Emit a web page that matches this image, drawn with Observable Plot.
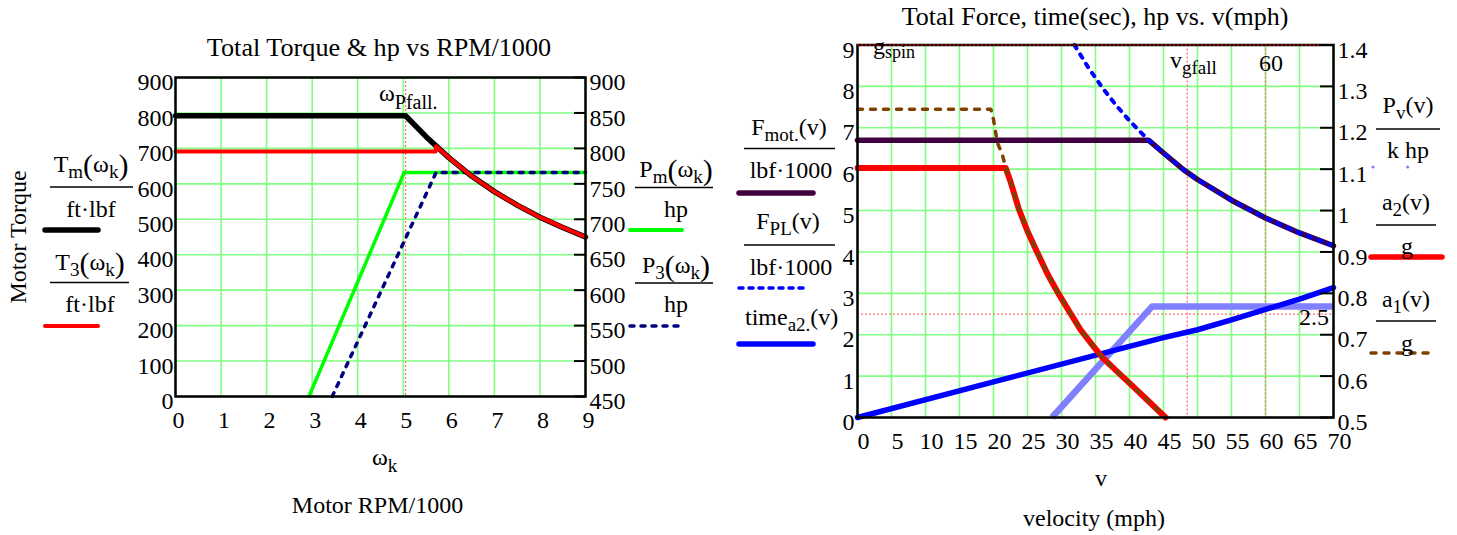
<!DOCTYPE html>
<html>
<head>
<meta charset="utf-8">
<script src="https://cdn.jsdelivr.net/npm/d3@7"></script>
<script src="https://cdn.jsdelivr.net/npm/@observablehq/plot@0.6"></script>
<style>
  html, body { margin: 0; padding: 0; background: #fff; }
  #wrap { position: relative; width: 1457px; height: 535px; overflow: hidden; }
</style>
</head>
<body>
<div id="wrap"></div>
<script>
// ---------------- DATA: left chart (Total Torque & hp vs RPM/1000) ----------------
const omegaTicks = [0, 1, 2, 3, 4, 5, 6, 7, 8, 9];
const torqueTicks = [0, 100, 200, 300, 400, 500, 600, 700, 800, 900];
const hpTickLabels = ["450", "500", "550", "600", "650", "700", "750", "800", "850", "900"];
const hpAxisMin = 450;      // right axis bottom (hp)
const hpPerTorque = 0.5;    // right axis: 450..900 hp over 0..900 torque

const omega_Tm = [0, 5.05, 5.5, 6, 6.5, 7, 7.5, 8, 8.5, 9];
const Tm       = [792, 792, 733, 674, 622, 578, 540, 506, 477, 450];
const omega_T3 = [0, 5.71, 5.72, 6, 6.5, 7, 7.5, 8, 8.5, 9];
const T3       = [691, 691, 706, 674, 622, 578, 540, 506, 477, 450];
const omega_Pm = [2.93, 5.02, 9];
const Pm       = [450, 766, 766];
const omega_P3 = [3.44, 5.72, 9];
const P3       = [450, 766, 766];
const omegaPfall = 5.05;

// ---------------- DATA: right chart (Total Force, time, hp vs v) ----------------
const vTicks = [0, 5, 10, 15, 20, 25, 30, 35, 40, 45, 50, 55, 60, 65, 70];
const forceTicks = [0, 1, 2, 3, 4, 5, 6, 7, 8, 9];
const gTickLabels = ["0.5", "0.6", "0.7", "0.8", "0.9", "1", "1.1", "1.2", "1.3", "1.4"];
const gAxisMin = 0.5;       // right axis bottom
const gPerForce = 0.1;      // right axis: 0.5..1.4 over 0..9

const v_Fmot = [0, 42.8, 45, 48, 50, 55, 60, 65, 70];
const Fmot   = [6.70, 6.70, 6.39, 5.98, 5.75, 5.25, 4.82, 4.46, 4.15];
const v_FPL  = [31.9, 34, 36, 38, 40, 42.8, 45, 48, 50, 55, 60, 65, 70];
const FPL    = [9.0, 8.44, 7.97, 7.55, 7.17, 6.70, 6.39, 5.98, 5.75, 5.25, 4.82, 4.46, 4.15];
const v_time = [0, 20, 40, 45, 50, 55, 60, 65, 70];
const time_a2 = [0, 0.86, 1.72, 1.93, 2.12, 2.36, 2.61, 2.86, 3.14];
const v_Pv   = [28.6, 43.3, 70];
const Pv     = [0.5, 0.768, 0.768];
const v_a2   = [0, 21.8, 22.5, 23.7, 25, 26.4, 28, 29.6, 31, 32.8, 34.5, 36, 38, 40, 42.5, 45.3];
const a2     = [1.103, 1.103, 1.07, 1.005, 0.95, 0.9, 0.845, 0.798, 0.76, 0.712, 0.676, 0.645, 0.614, 0.583, 0.544, 0.5];
const v_a1   = [0, 19.6, 20.0, 20.3, 20.6, 21.3, 21.8, 22.5, 23.7, 25, 26.4, 28, 29.6, 31, 32.8, 34.5, 36, 38, 40, 42.5, 45.3];
const a1     = [1.245, 1.245, 1.22, 1.19, 1.163, 1.135, 1.103, 1.07, 1.005, 0.95, 0.9, 0.845, 0.798, 0.76, 0.712, 0.676, 0.645, 0.614, 0.583, 0.544, 0.5];
const v_gfall = 48.5;
const v_60 = 60;
const level_25 = 2.5;
const g_spin = 9;

// ---------------- STYLE ----------------
const FONT = '"Liberation Serif", "Times New Roman", serif';
const GRID = "#80ff80";
const MARK = "#ff7070";
const W = 1457, H = 535;

const zip = (xs, ys, f = d => d) => xs.map((x, i) => ({x, y: f(ys[i])}));
const hpToTorque = hp => (hp - hpAxisMin) / hpPerTorque;
const gToForce = g => (g - gAxisMin) / gPerForce;

const wrap = document.getElementById("wrap");

// ---------------- LEFT CHART ----------------
const W1 = 730;
const F1 = {left: 175, right: 585, top: 77, bottom: 396};
const chart1 = Plot.plot({
  width: W1, height: H,
  marginLeft: F1.left, marginRight: W1 - F1.right, marginTop: F1.top, marginBottom: H - F1.bottom,
  x: {domain: [0, 9]},
  y: {domain: [0, 900]},
  style: {position: "absolute", left: "0px", top: "0px", fontFamily: FONT, fontSize: "24px", background: "transparent", color: "black", overflow: "visible"},
  marks: [
    Plot.ruleX(omegaTicks, {stroke: GRID, strokeWidth: 1.6}),
    Plot.ruleY(torqueTicks, {stroke: GRID, strokeWidth: 1.6}),
    Plot.ruleX([omegaPfall], {stroke: MARK, strokeWidth: 1.3, strokeDasharray: "2,2"}),
    Plot.line(zip(omega_Pm, Pm, hpToTorque), {x: "x", y: "y", stroke: "#00ff00", strokeWidth: 3.5}),
    Plot.line(zip(omega_P3, P3, hpToTorque), {x: "x", y: "y", stroke: "#000080", strokeWidth: 3.5, strokeDasharray: "4,7"}),
    Plot.line(zip(omega_Tm, Tm), {x: "x", y: "y", stroke: "black", strokeWidth: 5.5}),
    Plot.line(zip(omega_T3, T3), {x: "x", y: "y", stroke: "#ff0000", strokeWidth: 4}),
    Plot.frame({stroke: "black", strokeWidth: 2.5}),
    Plot.ruleY(torqueTicks, {insetLeft: (F1.right - F1.left) - 11, stroke: "black", strokeWidth: 2}),
    Plot.axisX({ticks: omegaTicks, tickSize: 0, tickPadding: 14, dx: 3, label: null}),
    Plot.axisY({ticks: torqueTicks, tickSize: 0, tickPadding: 2, dy: 5, label: null}),
    Plot.axisY({anchor: "right", ticks: torqueTicks, tickFormat: d => hpTickLabels[torqueTicks.indexOf(d)], tickSize: 0, tickPadding: 4, dy: 5, label: null})
  ]
});
wrap.appendChild(chart1);

// ---------------- RIGHT CHART ----------------
const X2 = 730, W2 = 727;
const F2 = {left: 857 - X2, right: 1333 - X2, top: 44.5, bottom: 417};
const chart2 = Plot.plot({
  width: W2, height: H,
  marginLeft: F2.left, marginRight: W2 - F2.right, marginTop: F2.top, marginBottom: H - F2.bottom,
  x: {domain: [0, 70]},
  y: {domain: [0, 9]},
  style: {position: "absolute", left: X2 + "px", top: "0px", fontFamily: FONT, fontSize: "24px", background: "transparent", color: "black", overflow: "visible"},
  marks: [
    Plot.ruleX(vTicks, {stroke: GRID, strokeWidth: 1.6}),
    Plot.ruleY(forceTicks, {stroke: GRID, strokeWidth: 1.6}),
    Plot.ruleX([v_gfall, v_60], {stroke: MARK, strokeWidth: 1.3, strokeDasharray: "2,2"}),
    Plot.ruleY([level_25], {stroke: MARK, strokeWidth: 1.3, strokeDasharray: "2,2"}),
    Plot.line(zip(v_Fmot, Fmot), {x: "x", y: "y", stroke: "#400040", strokeWidth: 5.5}),
    Plot.line(zip(v_FPL, FPL), {x: "x", y: "y", stroke: "#0000ff", strokeWidth: 4, strokeDasharray: "4,7"}),
    Plot.line(zip(v_Pv, Pv, gToForce), {x: "x", y: "y", stroke: "#8080ff", strokeWidth: 6.5, strokeLinecap: "butt"}),
    Plot.line(zip(v_time, time_a2), {x: "x", y: "y", stroke: "#0000ff", strokeWidth: 5.5}),
    Plot.line(zip(v_a2, a2, gToForce), {x: "x", y: "y", stroke: "#ff0000", strokeWidth: 6}),
    Plot.line(zip(v_a1, a1, gToForce), {x: "x", y: "y", stroke: "#804000", strokeWidth: 3.5, strokeDasharray: "5,8"}),
    Plot.frame({stroke: "black", strokeWidth: 2.5}),
    Plot.ruleY([g_spin], {stroke: "#c00000", strokeWidth: 1.5, strokeDasharray: "2,2"}),
    Plot.ruleY(forceTicks, {insetLeft: (F2.right - F2.left) - 13, stroke: "black", strokeWidth: 2}),
    Plot.axisX({ticks: vTicks, tickSize: 0, tickPadding: 14, dx: 6, label: null}),
    Plot.axisY({ticks: forceTicks, tickSize: 0, tickPadding: 3, dy: 5, label: null}),
    Plot.axisY({anchor: "right", ticks: forceTicks, tickFormat: d => gTickLabels[forceTicks.indexOf(d)], tickSize: 0, tickPadding: 4, dy: 5, label: null})
  ]
});
wrap.appendChild(chart2);

// ---------------- TEXT / LEGEND OVERLAY ----------------
const ov = d3.select(wrap).append("svg")
  .attr("width", W).attr("height", H)
  .style("position", "absolute").style("left", "0px").style("top", "0px")
  .attr("font-family", FONT).attr("fill", "black");

function txt(x, y, parts, o = {}) {
  const t = ov.append("text").attr("x", x).attr("y", y)
    .attr("text-anchor", o.anchor || "start").attr("font-size", o.size || 24);
  if (o.transform) t.attr("transform", o.transform).attr("x", 0).attr("y", 0);
  if (typeof parts === "string") parts = [[parts]];
  let shift = 0;
  for (const [s, kind] of parts) {
    const ts = t.append("tspan").text(s);
    let target = 0;
    if (kind === "sub") { target = o.sub ?? 6; ts.attr("font-size", o.subSize || 19); }
    if (kind === "big") { target = 3; ts.attr("font-size", 30); }
    ts.attr("dy", target - shift);
    shift = target;
  }
  return t;
}
function seg(x1, y1, x2, y2, stroke, width, dash, cap = "round") {
  const l = ov.append("line").attr("x1", x1).attr("y1", y1).attr("x2", x2).attr("y2", y2)
    .attr("stroke", stroke).attr("stroke-width", width).attr("stroke-linecap", cap);
  if (dash) l.attr("stroke-dasharray", dash);
}

// titles
txt(379, 56, "Total Torque & hp vs RPM/1000", {anchor: "middle", size: 26.2});
txt(1095, 25, "Total Force, time(sec), hp vs. v(mph)", {anchor: "middle", size: 26});

// axis titles
txt(372, 465, [["ω"], ["k", "sub"]], {sub: 7});
txt(377.5, 513, "Motor RPM/1000", {anchor: "middle"});
txt(1101, 486, "v", {anchor: "middle"});
txt(1094, 526, "velocity (mph)", {anchor: "middle"});
txt(0, 0, "Motor Torque", {anchor: "middle", transform: "translate(26,237) rotate(-90)"});

// left chart, left legend
txt(91, 172, [["T"], ["m", "sub"], ["(", "big"], ["ω"], ["k", "sub"], [")", "big"]], {anchor: "middle"});
seg(50, 187, 133, 187, "black", 1.6, null, "butt");
txt(91, 217, "ft·lbf", {anchor: "middle"});
seg(45, 230, 98, 230, "black", 5.5);
txt(90, 270, [["T"], ["3", "sub"], ["(", "big"], ["ω"], ["k", "sub"], [")", "big"]], {anchor: "middle"});
seg(50, 282.5, 129, 282.5, "black", 1.6, null, "butt");
txt(90, 312, "ft·lbf", {anchor: "middle"});
seg(45, 326, 98, 326, "#ff0000", 4);

// left chart, right legend
txt(676, 177, [["P"], ["m", "sub"], ["(", "big"], ["ω"], ["k", "sub"], [")", "big"]], {anchor: "middle"});
seg(635, 187.5, 713, 187.5, "black", 1.6, null, "butt");
txt(676, 217, "hp", {anchor: "middle"});
seg(630, 230, 682, 230, "#00ff00", 4);
txt(676, 273, [["P"], ["3", "sub"], ["(", "big"], ["ω"], ["k", "sub"], [")", "big"]], {anchor: "middle"});
seg(635, 283, 713, 283, "black", 1.6, null, "butt");
txt(676, 312, "hp", {anchor: "middle"});
seg(630, 326, 682, 326, "#000080", 3.5, "4,7");

// right chart, left legend
txt(789, 135, [["F"], ["mot.", "sub"], ["(v)"]], {anchor: "middle"});
seg(744, 148.5, 835, 148.5, "black", 1.6, null, "butt");
txt(791, 178, "lbf·1000", {anchor: "middle"});
seg(739, 193, 813, 193, "#400040", 5.5);
txt(788, 229, [["F"], ["PL", "sub"], ["(v)"]], {anchor: "middle"});
seg(744, 245, 835, 245, "black", 1.6, null, "butt");
txt(791, 275, "lbf·1000", {anchor: "middle"});
seg(739, 288, 803, 288, "#0000ff", 3.5, "4,6");
txt(745, 325, [["time"], ["a2.", "sub"], ["(v)"]]);
seg(739, 344, 813, 344, "#0000ff", 5.5);

// right chart, right legend
txt(1408, 113, [["P"], ["v", "sub"], ["(v)"]], {anchor: "middle"});
seg(1376, 129, 1440, 129, "black", 1.6, null, "butt");
txt(1408, 158, "k hp", {anchor: "middle"});
seg(1373, 167, 1442, 167, "#8080ff", 3, "0.1,34.5");
txt(1406, 210, [["a"], ["2", "sub"], ["(v)"]], {anchor: "middle"});
seg(1376, 225, 1436, 225, "black", 1.6, null, "butt");
seg(1371, 257, 1442, 257, "#ff0000", 5.5);
txt(1407, 254, "g", {anchor: "middle"});
txt(1406, 307, [["a"], ["1", "sub"], ["(v)"]], {anchor: "middle"});
seg(1376, 321, 1436, 321, "black", 1.6, null, "butt");
seg(1371, 353, 1435, 353, "#804000", 3.5, "5,8");
txt(1407, 351, "g", {anchor: "middle"});

// marker annotations
txt(379, 101, [["ω"], ["Pfall.", "sub"]], {sub: 8, subSize: 20});
txt(873, 54, [["g"], ["spin", "sub"]], {sub: 4, subSize: 18});
txt(1170, 68, [["v"], ["gfall", "sub"]], {sub: 6});
txt(1271, 71, "60", {anchor: "middle"});
txt(1314, 325, "2.5", {anchor: "middle"});
</script>
</body>
</html>
